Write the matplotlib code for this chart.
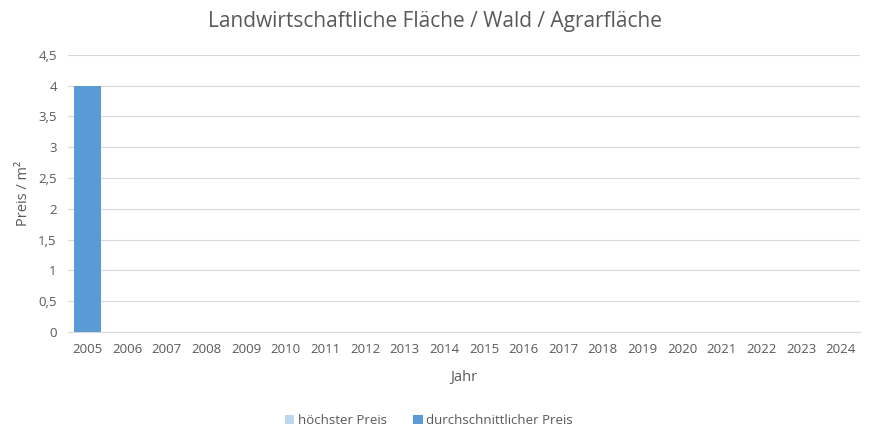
import numpy as np
import matplotlib.pyplot as plt

# data
jahre = [str(j) for j in range(2005, 2025)]
hoechster_preis = [0] * 20
durchschnitt_preis = [4] + [0] * 19

plt.rcParams['font.family'] = ['Open Sans', 'DejaVu Sans']
grau = '#595959'

fig = plt.figure(figsize=(8.7, 4.29), dpi=100)
ax = fig.add_axes([0.078, 0.226, 0.911, 0.646])

x = np.arange(len(jahre))
ax.bar(x, durchschnitt_preis, width=0.69, color='#5b9bd5', label='durchschnittlicher Preis', zorder=3)
ax.bar(x, hoechster_preis, width=0.69, bottom=durchschnitt_preis, color='#bdd7ee',
       label='höchster Preis', zorder=3)

ax.set_xlim(-0.5, len(jahre) - 0.5)
ax.set_ylim(0, 4.5)
yt = np.arange(0, 4.51, 0.5)
ax.set_yticks(yt)
ax.set_yticklabels([('%g' % v).replace('.', ',') for v in yt])
ax.set_xticks(x)
ax.set_xticklabels(jahre)
ax.tick_params(length=0, colors=grau, labelsize=9.5, pad=8)
ax.grid(axis='y', color='#d9d9d9', linewidth=0.8, zorder=0)
for s in ['top', 'right', 'left']:
    ax.spines[s].set_visible(False)
ax.spines['bottom'].set_color('#d9d9d9')

ax.set_ylabel('Preis / m²', color=grau, fontsize=10.5, labelpad=5)
ax.set_xlabel('Jahr', color=grau, fontsize=10.5, labelpad=10)
fig.suptitle('Landwirtschaftliche Fläche / Wald / Agrarfläche', y=0.975, color=grau, fontsize=15)

h, l = ax.get_legend_handles_labels()
fig.legend(h[::-1], l[::-1], loc='center', bbox_to_anchor=(0.493, 0.02), ncol=2, frameon=False,
           fontsize=9.5, labelcolor=grau, handlelength=0.7, handleheight=0.7, handletextpad=0.3,
           columnspacing=2.0)

plt.savefig('out.png', dpi=100)
